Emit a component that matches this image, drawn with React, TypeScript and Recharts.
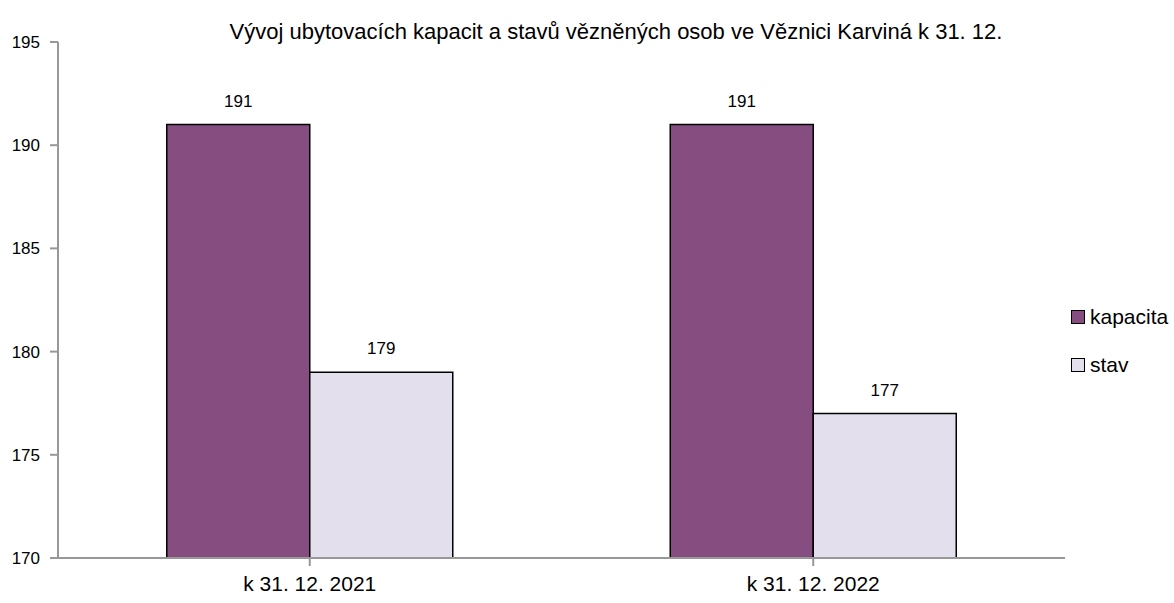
import React from 'react';
import { BarChart, Bar, XAxis, YAxis, LabelList } from 'recharts';

const categories = ['k 31. 12. 2021', 'k 31. 12. 2022'];
const kapacita = [191, 191];
const stav = [179, 177];
const yTicks = [170, 175, 180, 185, 190, 195];

const data = categories.map((c, i) => ({ name: c, kapacita: kapacita[i], stav: stav[i] }));

const FONT = 'Arial, "Liberation Sans", sans-serif';

const legendItems = [
  { label: 'kapacita', color: '#864D81' },
  { label: 'stav', color: '#E4DFEC' },
];

export default function App() {
  return (
    <div style={{ position: 'absolute', left: 0, top: 0, width: 1174, height: 603, background: '#fff' }}>
      <div
        style={{
          position: 'absolute', left: 0, width: 1232, top: 19, textAlign: 'center',
          fontFamily: FONT, fontSize: 22, color: '#000', lineHeight: '26px',
        }}
      >
        Vývoj ubytovacích kapacit a stavů vězněných osob ve Věznici Karviná k 31. 12.
      </div>
      <div style={{ position: 'absolute', left: 1071, top: 304, fontFamily: FONT, fontSize: 21, color: '#000' }}>
        {legendItems.map((it, i) => (
          <div key={it.label} style={{ display: 'flex', alignItems: 'center', height: 26, marginTop: i ? 22 : 0 }}>
            <span style={{ width: 12, height: 12, background: it.color, border: '1px solid #000', marginRight: 5, display: 'inline-block' }} />
            <span>{it.label}</span>
          </div>
        ))}
      </div>
      <BarChart
        width={1174}
        height={603}
        data={data}
        margin={{ top: 42, right: 109, bottom: 15, left: 0 }}
        barCategoryGap="21.6%"
        barGap={0}
      >
        <XAxis
          dataKey="name"
          height={30}
          stroke="#989898"
          strokeWidth={2}
          tickSize={8}
          tickMargin={10}
          tick={{ fill: '#000', fontSize: 21, fontFamily: FONT }}
        />
        <YAxis
          width={58}
          domain={[170, 195]}
          ticks={yTicks}
          stroke="#989898"
          strokeWidth={2}
          tickSize={8}
          tickMargin={10}
          tick={{ fill: '#000', fontSize: 17, fontFamily: FONT }}
        />
        <Bar dataKey="kapacita" fill="#864D81" stroke="#000" strokeWidth={1.5} isAnimationActive={false}>
          <LabelList dataKey="kapacita" position="top" offset={18} fill="#000" fontSize={17} fontFamily={FONT} />
        </Bar>
        <Bar dataKey="stav" fill="#E4DFEC" stroke="#000" strokeWidth={1.5} isAnimationActive={false}>
          <LabelList dataKey="stav" position="top" offset={18} fill="#000" fontSize={17} fontFamily={FONT} />
        </Bar>
      </BarChart>
    </div>
  );
}
